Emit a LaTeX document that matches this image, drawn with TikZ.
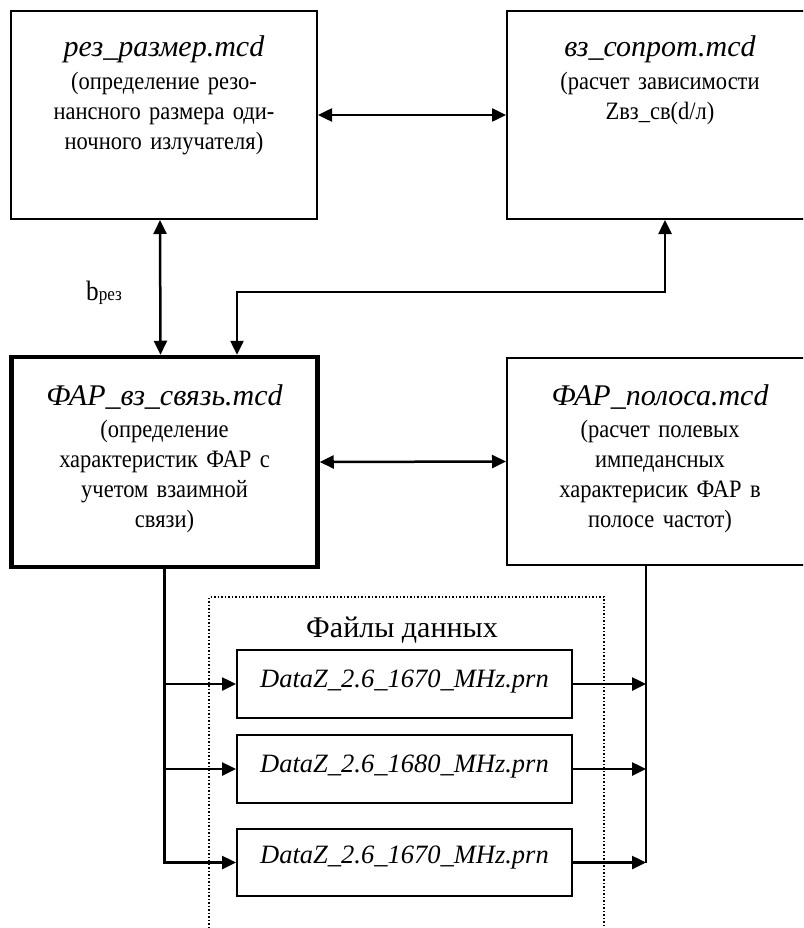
\documentclass[tikz,border=0pt]{standalone}
\usepackage{fontspec}
\setmainfont{Liberation Serif}[FakeStretch=0.9]
\newfontfamily\hdfont{Liberation Serif}
\usetikzlibrary{arrows.meta}
\newcommand{\hd}[1]{{\hdfont\fontsize{30}{33}\selectfont\itshape #1}}

\begin{document}
\begin{tikzpicture}[x=1pt,y=-1pt,
box/.style={draw,line width=2pt,inner sep=0pt,text width=306pt,align=center,text height=46pt,text depth=162pt,font=\fontsize{25}{30}\selectfont},
dbox/.style={draw,line width=2pt,inner sep=0pt,text width=335pt,align=center,text height=37pt,text depth=31pt,font=\hdfont\fontsize{26.5}{30}\selectfont\itshape},
ln/.style={line width=2.5pt},
arr/.style={line width=2.5pt,-{Triangle[length=14pt,width=13pt]}},
dbl/.style={line width=2.5pt,{Triangle[length=14pt,width=13pt]}-{Triangle[length=14pt,width=13pt]}}]
\useasboundingbox (0,0) rectangle (803,928);
\clip (0,0) rectangle (803,928);
\node (rez) at (164,115) [box]{\hd{рез\_размер.mcd}\\[3pt](определение резо-\\нансного размера оди-\\ночного излучателя)};
\node (vz) at (660,115) [box]{\hd{вз\_сопрот.mcd}\\[3pt](расчет зависимости\\Zвз\_св(d/л)};
\node (far) at (164.5,462) [box,line width=4.5pt,text height=48pt,text depth=162pt]{\hd{ФАР\_вз\_связь.mcd}\\[2pt](определение\\характеристик ФАР с\\учетом взаимной\\связи)};
\node (pol) at (660,461.5) [box,text height=47pt,text depth=160pt]{\hd{ФАР\_полоса.mcd}\\[2pt](расчет полевых\\импедансных\\характерисик ФАР в\\полосе частот)};
\draw[dotted,line width=1.5pt] (209,935) -- (209,597) -- (604,597) -- (604,935);
\node (files) at (402,637) [anchor=base,font=\hdfont\fontsize{30}{33}\selectfont]{Файлы данных};
\node (dA) at (404.5,684) [dbox]{DataZ\_2.6\_1670\_MHz.prn};
\node (dB) at (404.5,769) [dbox]{DataZ\_2.6\_1680\_MHz.prn};
\node (dC) at (404.5,862.5) [dbox,text height=34pt,text depth=33pt]{DataZ\_2.6\_1670\_MHz.prn};
\node (lbl) at (104,300) [anchor=base,font=\fontsize{28}{30}\selectfont]{b{\fontsize{19}{20}\selectfont рез}};
\coordinate (kink) at (237,292);
\coordinate (busr) at (646,566);
\draw[dbl] (rez.east) -- (vz.west);
\draw[dbl] ([xshift=-4pt]rez.south) -- ([xshift=-4pt]far.north);
\draw[dbl] (far.north -| kink) -- (kink) -| ([xshift=5pt]vz.south);
\draw[dbl] (far.east) -- (pol.west);
\draw[arr] (far.south) |- (dC.west);
\draw[arr] (far.south |- dA.west) -- (dA.west);
\draw[arr] (far.south |- dB.west) -- (dB.west);
\draw[ln] (pol.south -| busr) -- (busr |- dC.east);
\draw[arr] (dA.east) -- (dA.east -| busr);
\draw[arr] (dB.east) -- (dB.east -| busr);
\draw[arr] (dC.east) -- (dC.east -| busr);
\end{tikzpicture}
\end{document}
